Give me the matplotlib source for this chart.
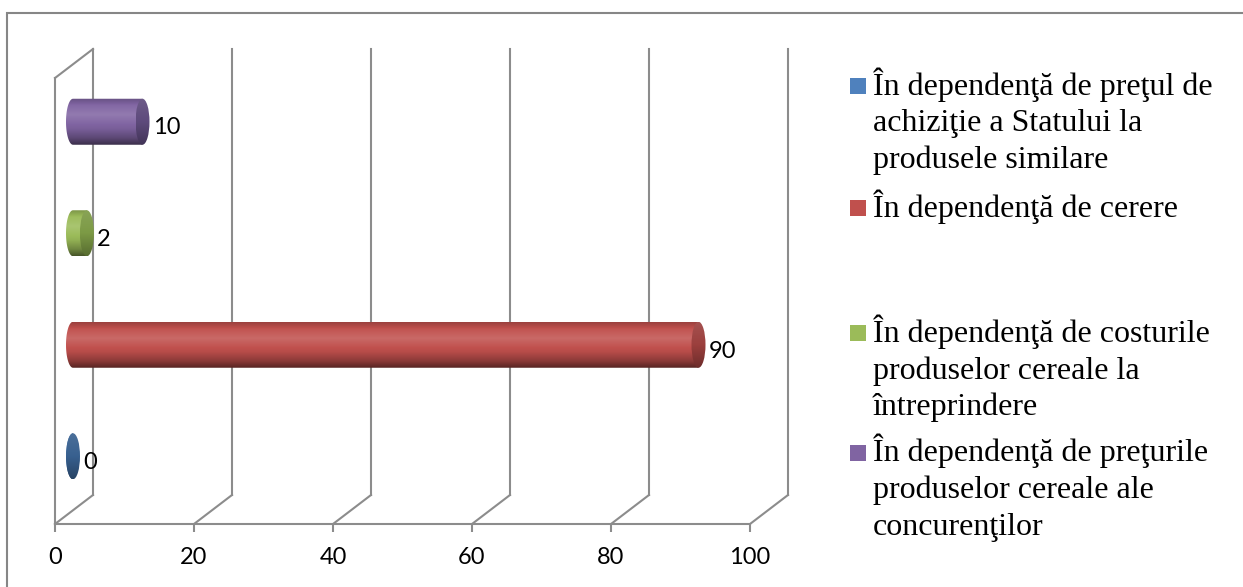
import numpy as np
import matplotlib
import matplotlib.pyplot as plt
import matplotlib.colors as mcolors
from matplotlib.patches import Ellipse, Rectangle, Polygon

# series, bottom to top
values = [0, 90, 2, 10]
colors = ["#4F81BD", "#C0504D", "#9BBB59", "#8064A2"]
cap_colors = ["#38608F", "#9B3F3D", "#7C9A45", "#5E4A7C"]
legend_lines = [
    ["În dependenţă de preţul de", "achiziţie a Statului la", "produsele similare"],
    ["În dependenţă de cerere"],
    ["În dependenţă de costurile", "produselor cereale la", "întreprindere"],
    ["În dependenţă de preţurile", "produselor cereale ale", "concurenţilor"],
]
xticks = [0, 20, 40, 60, 80, 100]

W, H, DPI = 1243, 587, 100
GRID = "#8C8C8C"
LBL_FONT = ["Lato", "DejaVu Sans"]
LEG_FONT = ["Liberation Serif", "DejaVu Serif"]

fig = plt.figure(figsize=(W / DPI, H / DPI), dpi=DPI)
fig.patch.set_facecolor("white")

# front plane of the plot area, in pixels
left, right, floor, top = 55, 750, 524, 78
ax = fig.add_axes([left / W, (H - floor) / H, (right - left) / W, (floor - top) / H])
ax.set_facecolor("none")

px_x = (right - left) / 100.0
px_y = (floor - top) / 4.0

for s in ["top", "right"]:
    ax.spines[s].set_visible(False)
for s in ["left", "bottom"]:
    ax.spines[s].set_color(GRID)
    ax.spines[s].set_linewidth(1.5)

# back wall and floor depth lines
bx, by = 38 / px_x, 29 / px_y
for t in xticks:
    ax.plot([t + bx, t + bx], [-0.5 + by, 3.5 + by], color=GRID, lw=1.5, clip_on=False)
    ax.plot([t, t + bx], [-0.5, -0.5 + by], color=GRID, lw=1.5, clip_on=False)
ax.plot([0, bx], [3.5, 3.5 + by], color=GRID, lw=1.5, clip_on=False)

# cylinders sit halfway into the depth
dx, dy = 18 / px_x, 12 / px_y
rx, ry = 7 / px_x, 23 / px_y

shade_t = [-1.0, -0.7, -0.3, 0.3, 0.7, 1.0]
shade_f = [0.45, 0.72, 0.95, 1.12, 1.02, 0.8]


def shade(base, f):
    if f <= 1:
        return base * f
    return base + (1 - base) * (f - 1) * 1.2


def gradient(color, tpts, fpts, n=200):
    base = np.array(mcolors.to_rgb(color))
    ts = np.linspace(-1, 1, n)
    rows = [np.clip(shade(base, np.interp(t, tpts, fpts)), 0, 1) for t in ts]
    return np.array(rows).reshape(n, 1, 3)


def cylinder(y, length, color, cap):
    cx, cy = dx, y + dy
    xe = cx + length
    ang = np.linspace(np.pi / 2, 3 * np.pi / 2, 60)
    verts = [(cx + rx * np.cos(a), cy + ry * np.sin(a)) for a in ang]
    verts += [(xe, cy - ry), (xe, cy + ry)]
    body = Polygon(verts, closed=True, transform=ax.transData)
    im = ax.imshow(gradient(color, shade_t, shade_f), origin="lower", aspect="auto",
                   extent=[cx - rx, max(xe, cx + rx), cy - ry, cy + ry],
                   interpolation="bilinear", zorder=3)
    im.set_clip_path(body)

    end = Ellipse((xe, cy), 2 * rx, 2 * ry, transform=ax.transData)
    im2 = ax.imshow(gradient(cap, [-1, 0, 1], [0.7, 1.0, 1.08]), origin="lower", aspect="auto",
                    extent=[xe - rx, xe + rx, cy - ry, cy + ry],
                    interpolation="bilinear", zorder=4)
    im2.set_clip_path(end)

    ax.annotate(str(length), xy=(xe + rx, cy), xytext=(2.5, -4.5),
                textcoords="offset points", ha="left", va="center",
                fontfamily=LBL_FONT, fontsize=17, color="black", zorder=5)


for i, (v, c, cc) in enumerate(zip(values, colors, cap_colors)):
    cylinder(i, v, c, cc)

ax.set_xlim(0, 100)
ax.set_ylim(-0.5, 3.5)
ax.set_yticks([])
ax.set_xticks(xticks)
ax.set_xticklabels([str(t) for t in xticks], fontfamily=LBL_FONT, fontsize=17)
ax.tick_params(axis="x", direction="out", length=5.5, width=1.5, color=GRID, pad=11)

# legend drawn line by line
baselines = [[95, 131.5, 168], [217], [342, 378.5, 415], [461.5, 498, 535]]
for lines, ys, c in zip(legend_lines, baselines, colors):
    fig.add_artist(Rectangle((850 / W, 1 - (ys[0] - 1) / H), 16 / W, 16 / H,
                             transform=fig.transFigure, facecolor=c, edgecolor="none"))
    for txt, yb in zip(lines, ys):
        fig.text(873 / W, 1 - yb / H, txt, ha="left", va="baseline",
                 fontfamily=LEG_FONT, fontsize=23, color="black")

# chart border (runs past right and bottom edges)
fig.add_artist(Rectangle((7 / W, -0.1), 1.2, (H - 13) / H + 0.1, transform=fig.transFigure,
                         fill=False, edgecolor="#868686", lw=1.5))

fig.savefig("out.png", dpi=DPI)
